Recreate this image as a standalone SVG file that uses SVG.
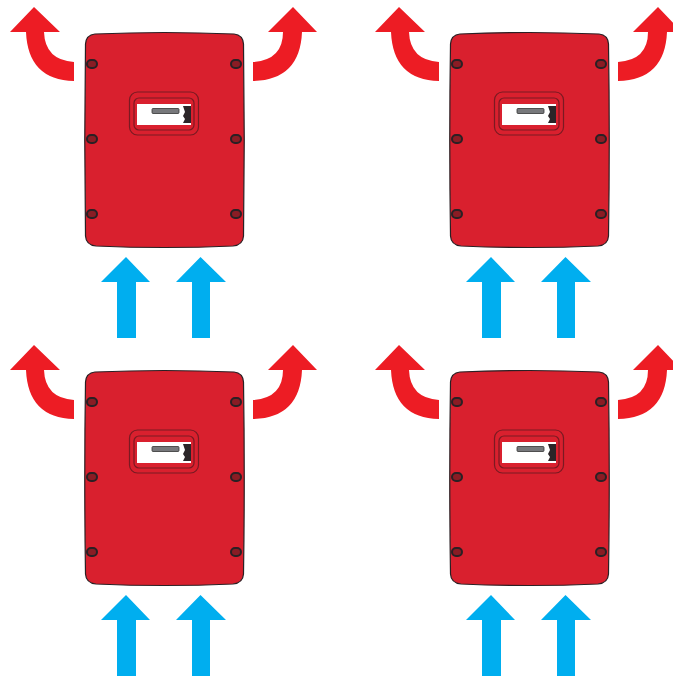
<svg xmlns="http://www.w3.org/2000/svg" width="673" height="677" viewBox="0 0 673 677">
<style>
.body{fill:#d9202e;stroke:#2a2024;stroke-width:1.2}
.ring{fill:none;stroke:#7a1a22;stroke-width:1.2}
.screw{fill:#8a1c24;stroke:#2a2024;stroke-width:2}
.hot{fill:#ed1c24}
.cold{fill:#00aeef}
</style>
<defs>
<g id="unit">
<path class="body" d="M95 34Q164 31 234 34Q243 35 243.500 44Q245 140 243.500 236Q243 245 233 246Q164 249 96 246Q86 245 85.500 236Q84 140 85.500 44Q86 35 95 34Z"/>
<g class="screw-set">
<rect class="screw" x="87" y="60" width="10" height="8" rx="4"/>
<rect class="screw" x="231" y="60" width="10" height="8" rx="4"/>
<rect class="screw" x="87" y="135" width="10" height="8" rx="4"/>
<rect class="screw" x="231" y="135" width="10" height="8" rx="4"/>
<rect class="screw" x="87" y="210" width="10" height="8" rx="4"/>
<rect class="screw" x="231" y="210" width="10" height="8" rx="4"/>
</g>
<rect class="ring" x="129.500" y="92" width="69" height="43" rx="8"/>
<rect class="ring" x="134" y="98" width="60" height="32" rx="5"/>
<rect x="137" y="104" width="54" height="21" fill="#fff"/>
<rect x="152" y="108.500" width="27" height="5" rx="1" fill="#77787b" stroke="#333" stroke-width="0.800"/>
<path d="M183 106H191V123H183L185 119L183 116L185 112Z" fill="#2b2528"/>
</g>
<g id="heat">
<path class="hot" d="M34 7L60 32H44Q45 60 74 62V81Q28 80 26 32H10Z"/>
<path class="hot" d="M293 7L317 32H302Q300 80 253 81V62Q283 60 283 32H268Z"/>
</g>
<g id="air">
<path class="cold" d="M126 257L150 282H136V338H117V282H101Z"/>
<path class="cold" d="M200.500 257L226 282H210V338H192V282H176Z"/>
</g>
</defs>
<g id="unit-top-left"><use href="#unit"/></g>
<g id="unit-top-right"><use href="#unit" x="365"/></g>
<g id="unit-bottom-left"><use href="#unit" y="338"/></g>
<g id="unit-bottom-right"><use href="#unit" x="365" y="338"/></g>
<g id="connectors">
<use href="#heat"/><use href="#air"/>
<use href="#heat" x="365"/><use href="#air" x="365"/>
<use href="#heat" y="338"/><use href="#air" y="338"/>
<use href="#heat" x="365" y="338"/><use href="#air" x="365" y="338"/>
</g>
</svg>
